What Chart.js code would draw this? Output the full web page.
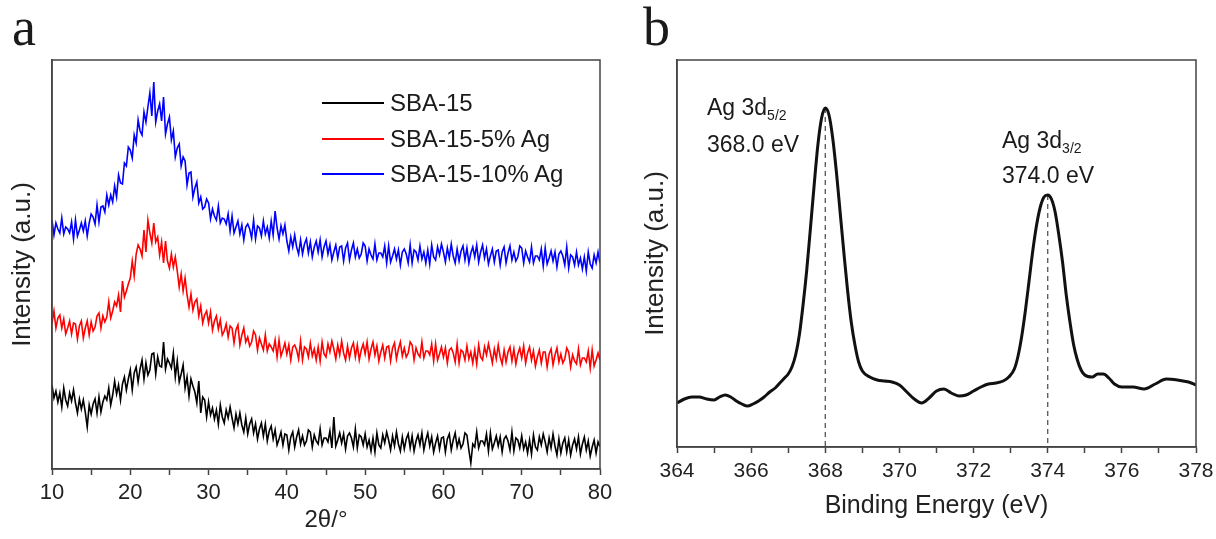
<!DOCTYPE html>
<html>
<head>
<meta charset="utf-8">
<script src="https://cdn.jsdelivr.net/npm/chart.js@4.4.1/dist/chart.umd.min.js"></script>
<style>
  html, body { margin: 0; padding: 0; background: #fff; }
  body { width: 1216px; height: 539px; position: relative; overflow: hidden;
         font-family: 'Liberation Sans', Arial, sans-serif; color: #1a1a1a; }
  canvas { position: absolute; top: 0; }
  #xrdChart { left: 0; }
  #xpsChart { left: 620px; }
  .letter { position: absolute; top: 0; font-family: 'Liberation Serif', 'Times New Roman', serif;
            font-size: 54px; line-height: 1; }
  .legend-row { position: absolute; left: 322px; height: 24px; font-size: 24px; line-height: 1; white-space: nowrap; }
  .legend-row .swatch { position: absolute; left: 0; top: 11px; width: 62px; height: 2px; }
  .legend-row .txt { position: absolute; left: 68px; top: 0; }
  .note { position: absolute; font-size: 23px; line-height: 1; white-space: nowrap; }
  .note sub { font-size: 14px; line-height: 0; vertical-align: -5px; }
</style>
</head>
<body>
<canvas id="xrdChart" width="620" height="539"></canvas>
<canvas id="xpsChart" width="596" height="539"></canvas>
<div class="letter" style="left:12px">a</div>
<div class="letter" style="left:643px">b</div>
<div id="legend"></div>
<div class="note" style="left:707px; top:96px">Ag 3d<sub>5/2</sub></div>
<div class="note" style="left:707px; top:133px">368.0 eV</div>
<div class="note" style="left:1002px; top:129px">Ag 3d<sub>3/2</sub></div>
<div class="note" style="left:1002px; top:164px">374.0 eV</div>
<script>
// ---- panel a: XRD, 2θ from 10° to 80° every 0.25° (one row = 1°) ----
const angleStart = 10;
const angleStep = 0.25;

const sba15 = [
  84, 71, 78, 67,   76, 62, 81, 69,   63, 76, 68, 79,   66, 56, 70, 60,   69, 57, 42, 64,
  55, 65, 70, 56,   72, 57, 67, 73,   69, 81, 64, 74,   88, 75, 84, 69,   85, 92, 79, 90,
  99, 79, 96, 102,  87, 100, 109, 90, 106, 94, 99, 115, 116, 95, 112, 103, 102, 127, 100, 110,
  106, 101, 116, 92, 108, 87, 95, 104, 81, 92, 73, 90,  83, 77, 66, 88,   56, 72, 69, 52,
  67, 54, 61, 50,   59, 45, 64, 52,   46, 59, 51, 62,   51, 41, 55, 45,   56, 44, 37, 51,
  35, 45, 50, 36,   45, 30, 40, 46,   33, 45, 28, 38,   43, 30, 39, 24,   30, 37, 24, 35,
  34, 19, 32, 37,   22, 32, 39, 25,   33, 24, 28, 39,   37, 22, 34, 28,   25, 40, 24, 31,
  31, 27, 38, 21,   52, 23, 29, 36,   26, 35, 20, 33,   36, 31, 22, 40,   21, 34, 32, 24,
  35, 22, 29, 18,   31, 17, 36, 24,   21, 34, 26, 37,   29, 19, 33, 23,   37, 25, 18, 32,
  20, 30, 35, 21,   33, 18, 28, 34,   24, 36, 19, 29,   36, 23, 32, 17,   26, 33, 20, 31,
  32, 17, 30, 35,   19, 29, 36, 22,   30, 21, 25, 36,   34, 19, 6, 25,    22, 37, 21, 28,
  28, 24, 35, 18,   36, 20, 26, 33,   23, 32, 17, 30,   33, 28, 19, 37,   18, 31, 29, 21,
  33, 20, 27, 16,   29, 15, 34, 22,   19, 32, 24, 35,   27, 17, 31, 21,   35, 23, 14, 30,
  16, 26, 31, 17,   29, 14, 24, 30,   20, 32, 15, 25,   32, 19, 28, 13,   22, 29, 16, 27,
  22
];

const sba15Ag5 = [
  146, 158, 141, 151, 154, 141, 150, 135, 141, 148, 135, 146, 145, 130, 143, 148, 131, 141, 148, 134,
  147, 138, 142, 153, 156, 141, 153, 147, 152, 167, 151, 158, 167, 163, 174, 157, 188, 172, 178, 185,
  191, 208, 193, 215, 224, 220, 213, 239, 217, 249, 236, 226, 246, 227, 232, 214, 227, 206, 228, 208,
  201, 215, 202, 212, 198, 182, 195, 178, 191, 174, 162, 175, 159, 167, 170, 153, 163, 146, 154, 158,
  146, 157, 139, 148, 153, 140, 149, 134, 138, 145, 132, 143, 141, 126, 139, 144, 124, 134, 141, 127,
  132, 123, 127, 138, 134, 119, 131, 125, 119, 134, 118, 125, 122, 118, 129, 112, 129, 113, 119, 126,
  115, 124, 109, 122, 124, 119, 110, 128, 109, 122, 120, 112, 126, 113, 120, 109, 122, 108, 127, 115,
  112, 125, 117, 128, 120, 110, 124, 114, 128, 116, 109, 123, 111, 121, 126, 112, 124, 109, 119, 125,
  115, 127, 110, 120, 127, 114, 123, 108, 117, 124, 111, 122, 123, 108, 121, 126, 110, 120, 127, 113,
  121, 112, 116, 127, 124, 109, 121, 115, 112, 127, 111, 118, 118, 114, 125, 108, 125, 109, 115, 122,
  112, 121, 106, 119, 121, 116, 107, 125, 106, 119, 117, 109, 123, 110, 117, 106, 119, 105, 124, 112,
  109, 122, 114, 125, 116, 106, 120, 110, 124, 112, 105, 119, 107, 117, 122, 108, 120, 105, 115, 121,
  111, 123, 106, 116, 122, 109, 118, 103, 112, 119, 106, 117, 117, 102, 115, 120, 104, 114, 121, 107,
  115, 106, 110, 121, 117, 102, 114, 108, 105, 120, 104, 111, 111, 107, 118, 101, 119, 103, 109, 116,
  109
];

const sba15Ag10 = [
  249, 234, 246, 240, 236, 251, 235, 242, 240, 236, 247, 230, 249, 233, 239, 246, 238, 248, 233, 246,
  255, 252, 245, 264, 247, 262, 263, 257, 274, 264, 274, 267, 283, 272, 294, 286, 285, 306, 303, 322,
  319, 311, 334, 326, 349, 338, 334, 357, 347, 362, 376, 353, 387, 347, 358, 365, 348, 372, 335, 345,
  352, 329, 338, 312, 321, 325, 303, 312, 308, 284, 296, 297, 272, 281, 287, 266, 272, 260, 262, 270,
  266, 250, 260, 253, 249, 263, 246, 251, 250, 245, 255, 238, 253, 236, 242, 248, 235, 244, 229, 242,
  245, 240, 231, 249, 230, 243, 241, 233, 248, 235, 242, 231, 248, 234, 258, 241, 230, 243, 235, 244,
  228, 218, 232, 222, 234, 222, 215, 229, 215, 225, 230, 216, 227, 212, 222, 228, 217, 229, 212, 222,
  228, 215, 224, 209, 217, 224, 211, 222, 223, 208, 221, 226, 209, 219, 226, 212, 220, 211, 215, 226,
  223, 208, 220, 214, 210, 225, 209, 216, 216, 212, 223, 206, 223, 207, 213, 220, 210, 219, 204, 217,
  220, 215, 206, 224, 206, 219, 217, 209, 223, 210, 217, 206, 219, 205, 224, 212, 209, 222, 214, 225,
  217, 207, 221, 211, 225, 213, 206, 220, 208, 218, 223, 209, 221, 206, 216, 222, 212, 224, 207, 217,
  224, 211, 220, 205, 213, 220, 207, 218, 219, 204, 217, 222, 206, 216, 223, 209, 217, 208, 212, 223,
  221, 206, 218, 212, 207, 222, 206, 213, 213, 209, 220, 203, 221, 205, 211, 218, 208, 217, 202, 215,
  218, 213, 204, 222, 201, 214, 212, 204, 217, 204, 211, 200, 212, 198, 217, 205, 201, 214, 206, 217,
  206
];

const seriesNames = ['SBA-15', 'SBA-15-5% Ag', 'SBA-15-10% Ag'];
const seriesColors = ['#000000', '#ff0000', '#0000ff'];
const legendBaselines = [111, 147, 182];

// ---- panel b: XPS Ag 3d ----
const bindingEnergy = [
  364.0, 364.2, 364.4, 364.6, 364.8, 365.0, 365.15, 365.3, 365.45, 365.6,
  365.75, 365.9, 366.05, 366.2, 366.35, 366.5, 366.65, 366.8, 366.9, 367.0,
  367.1, 367.2, 367.3, 367.4, 367.5, 367.6, 367.7, 367.8, 367.9, 368.0,
  368.1, 368.2, 368.3, 368.4, 368.5, 368.6, 368.7, 368.8, 368.9, 369.0,
  369.2, 369.4, 369.6, 369.8, 370.0, 370.2, 370.4, 370.6, 370.8, 371.0,
  371.2, 371.4, 371.6, 371.8, 372.0, 372.2, 372.4, 372.6, 372.8, 372.95,
  373.1, 373.2, 373.3, 373.4, 373.5, 373.6, 373.7, 373.8, 373.9, 374.0,
  374.1, 374.2, 374.3, 374.4, 374.5, 374.6, 374.7, 374.8, 374.9, 375.0,
  375.2, 375.35, 375.5, 375.65, 375.8, 376.0, 376.3, 376.6, 376.9, 377.2,
  377.5, 377.8, 378.0
];
const xpsIntensity = [
  44, 48, 50, 50, 48, 47, 50, 52, 50, 46,
  43, 41, 43, 46, 50, 55, 59, 65, 69, 73,
  80, 92, 112, 142, 177, 219, 262, 302, 329, 339,
  332, 309, 275, 235, 195, 157, 125, 102, 85, 76,
  70, 67, 66, 65, 62, 55, 48, 44, 49, 56,
  58, 54, 51, 52, 56, 60, 63, 64, 66, 70,
  78, 91, 111, 137, 167, 197, 222, 240, 250, 252,
  248, 235, 212, 185, 152, 125, 102, 87, 77, 72,
  70, 73, 73, 69, 63, 60, 60, 58, 63, 68,
  67, 65, 62
];
const peakEnergy = [368.0, 374.0];

const axisColor = '#444';
const textColor = '#222';
const fontFamily = "'Liberation Sans', Arial, sans-serif";

Chart.defaults.font.family = fontFamily;
Chart.defaults.color = textColor;

// box around the plot area, like the original figure
const framePlugin = {
  id: 'frame',
  afterDraw(chart) {
    const { ctx, chartArea: a } = chart;
    ctx.save();
    ctx.strokeStyle = axisColor;
    ctx.lineWidth = 1.5;
    ctx.strokeRect(a.left, a.top, a.right - a.left, a.bottom - a.top);
    ctx.restore();
  }
};

// dashed guide lines under the XPS peaks
const peakLinePlugin = {
  id: 'peakLines',
  beforeDatasetsDraw(chart) {
    const { ctx, chartArea, scales: { x, y } } = chart;
    ctx.save();
    ctx.strokeStyle = '#555';
    ctx.lineWidth = 1.3;
    ctx.setLineDash([5, 4]);
    peakEnergy.forEach(e => {
      const i = bindingEnergy.indexOf(e);
      const px = x.getPixelForValue(e);
      ctx.beginPath();
      ctx.moveTo(px, y.getPixelForValue(xpsIntensity[i]));
      ctx.lineTo(px, chartArea.bottom);
      ctx.stroke();
    });
    ctx.restore();
  }
};

function xAxis(min, max, step, labelEvery, fontSize, labelPad, title, titleSize, titlePad, height) {
  return {
    type: 'linear',
    min: min,
    max: max,
    grid: { display: true, drawOnChartArea: false, drawTicks: true, tickLength: 6,
            tickColor: axisColor, tickWidth: 1.5 },
    border: { display: true, color: axisColor, width: 1.5 },
    ticks: {
      stepSize: step, autoSkip: false, maxRotation: 0, padding: labelPad,
      font: { size: fontSize }, color: textColor,
      callback: v => (Math.round(v / labelEvery) * labelEvery === v ? v : '')
    },
    title: { display: true, text: title, font: { size: titleSize }, color: textColor,
             padding: { top: 0, bottom: titlePad } },
    // fixed axis box so the plot frame lands where the figure has it
    afterFit: s => { s.height = height; s.paddingLeft = 0; s.paddingRight = 0; }
  };
}

function yAxis(max, titlePad, width) {
  return {
    min: 0,
    max: max,
    grid: { display: false },
    border: { display: true, color: axisColor, width: 1.5 },
    ticks: { display: false },
    title: { display: true, text: 'Intensity (a.u.)', font: { size: 26 }, color: textColor,
             padding: { top: titlePad, bottom: 0 } },
    afterFit: s => { s.width = width; s.paddingTop = 0; s.paddingBottom = 0; }
  };
}

// panel a
const xrdSeries = [sba15, sba15Ag5, sba15Ag10];
new Chart(document.getElementById('xrdChart'), {
  type: 'line',
  data: {
    datasets: xrdSeries.map((vals, k) => ({
      label: seriesNames[k],
      data: vals.map((v, i) => ({ x: angleStart + i * angleStep, y: v })),
      borderColor: seriesColors[k],
      borderWidth: 1.6,
      pointRadius: 0,
      tension: 0,
      fill: false
    }))
  },
  options: {
    responsive: false,
    animation: false,
    devicePixelRatio: 1,
    layout: { padding: { left: 0, right: 20, top: 60, bottom: 0 } },
    plugins: { legend: { display: false }, tooltip: { enabled: false } },
    scales: {
      x: xAxis(10, 80, 5, 10, 22, 5, '2θ/°', 24, 4, 70),
      y: yAxis(409, 7, 52)
    }
  },
  plugins: [framePlugin]
});

// legend for panel a, built from the series names and colours
const legend = document.getElementById('legend');
seriesNames.forEach((name, k) => {
  const row = document.createElement('div');
  row.className = 'legend-row';
  row.style.top = (legendBaselines[k] - 20.5) + 'px';
  row.innerHTML = '<div class="swatch" style="background:' + seriesColors[k] + '"></div>' +
                  '<span class="txt">' + name + '</span>';
  legend.appendChild(row);
});

// panel b
new Chart(document.getElementById('xpsChart'), {
  type: 'line',
  data: {
    datasets: [{
      label: 'Ag 3d',
      data: bindingEnergy.map((e, i) => ({ x: e, y: xpsIntensity[i] })),
      borderColor: '#111',
      borderWidth: 3,
      pointRadius: 0,
      cubicInterpolationMode: 'monotone',
      fill: false
    }]
  },
  options: {
    responsive: false,
    animation: false,
    devicePixelRatio: 1,
    layout: { padding: { left: 0, right: 20, top: 60, bottom: 0 } },
    plugins: { legend: { display: false }, tooltip: { enabled: false } },
    scales: {
      x: xAxis(364, 378, 1, 2, 21, 6, 'Binding Energy (eV)', 25, 18, 92),
      y: yAxis(387, 20, 57)
    }
  },
  plugins: [framePlugin, peakLinePlugin]
});
</script>
</body>
</html>
